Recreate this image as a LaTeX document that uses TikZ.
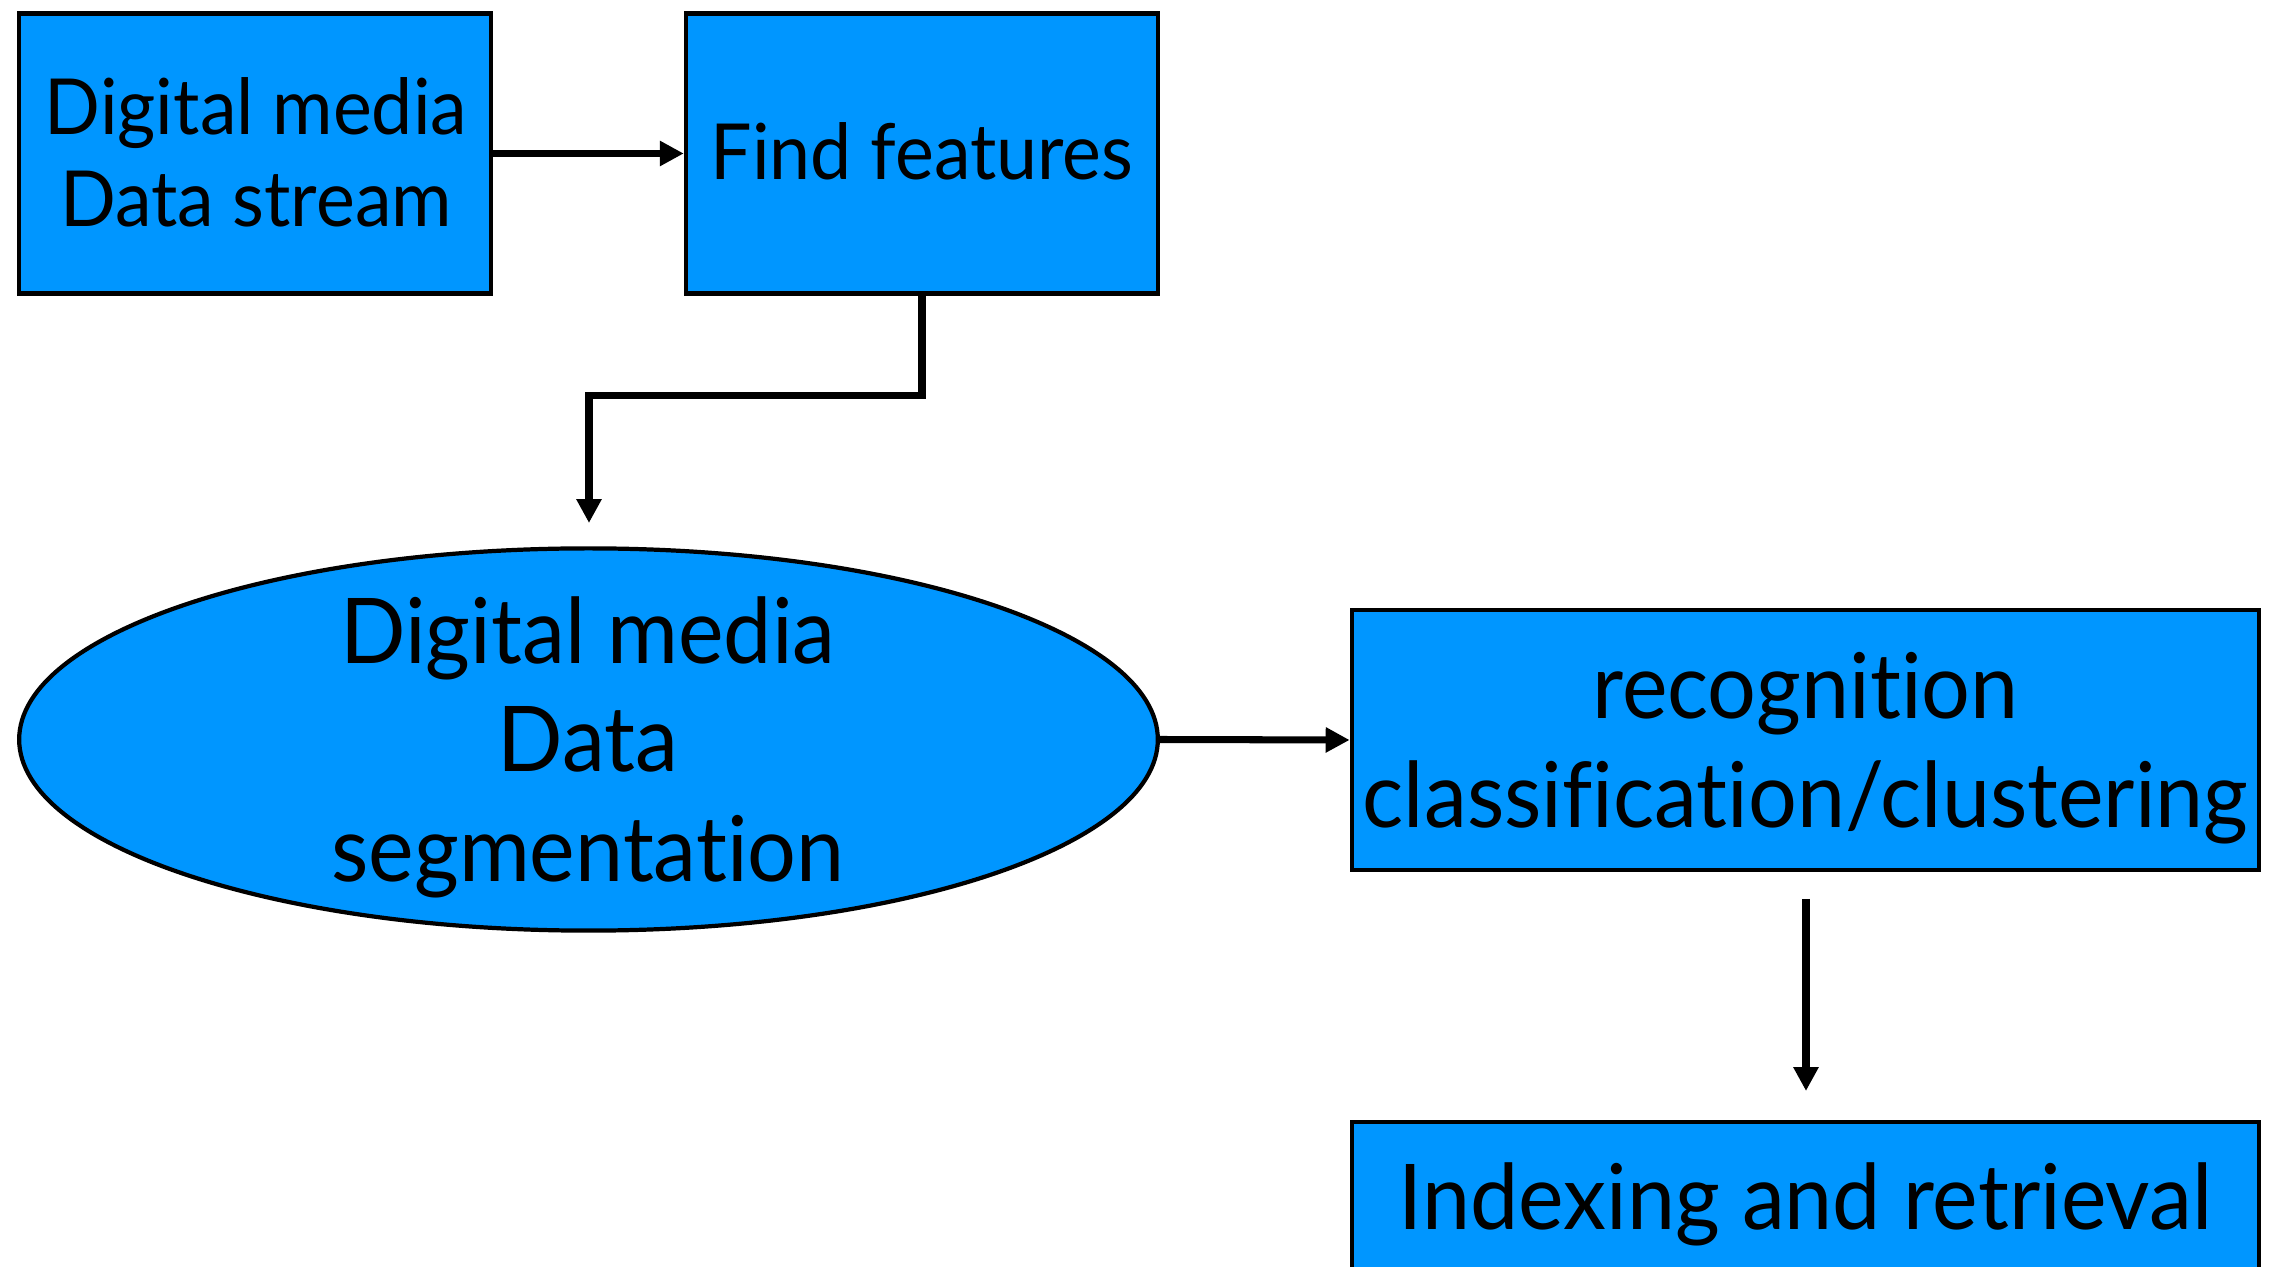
\documentclass[tikz,border=0pt]{standalone}
\usepackage{fontspec}
\newfontfamily\labelfont{Lato}[FakeStretch=0.95, Ligatures=NoCommon]
\usetikzlibrary{shapes.geometric,arrows.meta}
\definecolor{boxblue}{RGB}{0,150,255}
\tikzset{
  stage/.style={draw=black, line width=1.2pt, fill=boxblue, rectangle, inner sep=0pt},
  oval/.style={draw=black, line width=1.2pt, fill=boxblue, ellipse, inner sep=0pt},
  flow/.style={line width=2pt, -{Triangle[length=6.8pt,width=6.8pt]}},
  small/.style={anchor=base, inner sep=0pt, font=\labelfont\fontsize{22}{26}\selectfont},
  big/.style={anchor=base, inner sep=0pt, font=\labelfont\fontsize{25.8}{31}\selectfont}
}
\begin{document}
\begin{tikzpicture}[x=0.01cm, y=-0.01cm]
  \useasboundingbox (0,0) rectangle (2277,1267);
  \begin{scope}
    \clip (0,0) rectangle (2277,1267);
    % processing stages
    \node[stage, minimum width=4.72cm, minimum height=2.80cm] (stream) at (255,153.5) {};
    \node[stage, minimum width=4.72cm, minimum height=2.80cm] (features) at (922,153.5) {};
    \node[oval, minimum width=11.38cm, minimum height=3.82cm] (segment) at (588.5,739.5) {};
    \node[stage, minimum width=9.07cm, minimum height=2.60cm] (recog) at (1805.5,740) {};
    \node[stage, minimum width=9.07cm, minimum height=3.00cm] (index) at (1805.5,1272) {};
    % labels, one node per line
    \node[small] (stream-a) at (256,135) {Digital media};
    \node[small] (stream-b) at (256,227) {Data stream};
    \node[small] (features-a) at (922,180) {Find features};
    \node[big] (segment-a) at (588,664) {Digital media};
    \node[big] (segment-b) at (588,772) {Data};
    \node[big] (segment-c) at (588,882) {segmentation};
    \node[big] (recog-a) at (1805.5,719) {recognition};
    \node[big] (recog-b) at (1805.5,828) {classification/clustering};
    \node[big] (index-a) at (1805.5,1229) {Indexing and retrieval};
  \end{scope}
  % free arrow ends
  \coordinate (segtop) at (589,523);
  \coordinate (recogout) at (1806,899);
  \coordinate (indexin) at (1806,1091);
  % connectors
  \draw[flow] (stream.east) -- (features.west);
  \draw[flow] (features.south) -- (922,395.5) -| (segtop);
  \draw[flow] (segment.east) -- (recog.west);
  \draw[flow] (recogout) -- (indexin);
\end{tikzpicture}
\end{document}
